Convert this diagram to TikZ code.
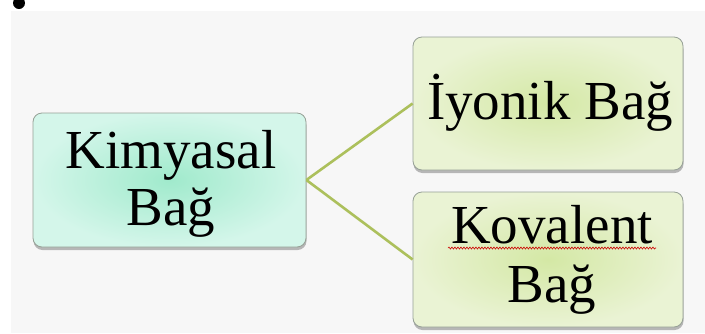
\documentclass[tikz,border=0pt]{standalone}
\usepackage{fontspec}
\setmainfont{Liberation Serif}
\usetikzlibrary{shadows,decorations.pathmorphing}
\definecolor{slidebg}{RGB}{247,247,247}
\definecolor{mintin}{RGB}{160,234,204}
\definecolor{mintout}{RGB}{212,246,234}
\definecolor{limein}{RGB}{212,232,165}
\definecolor{limeout}{RGB}{234,243,212}
\definecolor{boxline}{RGB}{150,160,150}
\definecolor{conn}{RGB}{172,192,92}
\tikzset{
  box/.style={draw=boxline, line width=0.8pt, rounded corners=9pt, inner sep=0pt,
    drop shadow={shadow xshift=0.5pt, shadow yshift=-3pt, fill=black!45, opacity=0.6}},
  mintbox/.style={box, inner color=mintin, outer color=mintout},
  limebox/.style={box, inner color=limein, outer color=limeout},
  txt/.style={anchor=base, inner sep=0pt, font=\fontsize{55}{58}\selectfont},
  link/.style={draw=conn, line width=2.6pt}
}
\begin{document}
\begin{tikzpicture}[x=1pt,y=-1pt]
\useasboundingbox (0,0) rectangle (705,333);
\fill[white] (0,0) rectangle (705,333);
\fill[slidebg] (11,11) rectangle (705,333);
\fill[black] (19,3) circle (6);
\node[mintbox, minimum width=273pt, minimum height=134pt] (kb) at (169.5,180) {};
\node[limebox, minimum width=270pt, minimum height=133pt] (ib) at (548,103.5) {};
\node[limebox, minimum width=270pt, minimum height=135pt] (cb) at (548,259.5) {};
\node[txt] (kb1) at (171,168) {Kimyasal};
\node[txt] (kb2) at (171,225) {Bağ};
\node[txt] (ib1) at (550,119) {İyonik Bağ};
\node[txt] (cb1) at (552,243) {Kovalent};
\node[txt] (cb2) at (552,302) {Bağ};
\coordinate (hub) at (kb.east);
\draw[link] (hub) -- (ib.west);
\draw[link] (hub) -- (cb.west);
\draw[red!80!black, line width=0.6pt, decorate, decoration={snake, amplitude=1pt, segment length=3pt}] ([xshift=-3pt,yshift=-5pt]cb1.base west) -- ([xshift=3pt,yshift=-5pt]cb1.base east);
\end{tikzpicture}
\end{document}
